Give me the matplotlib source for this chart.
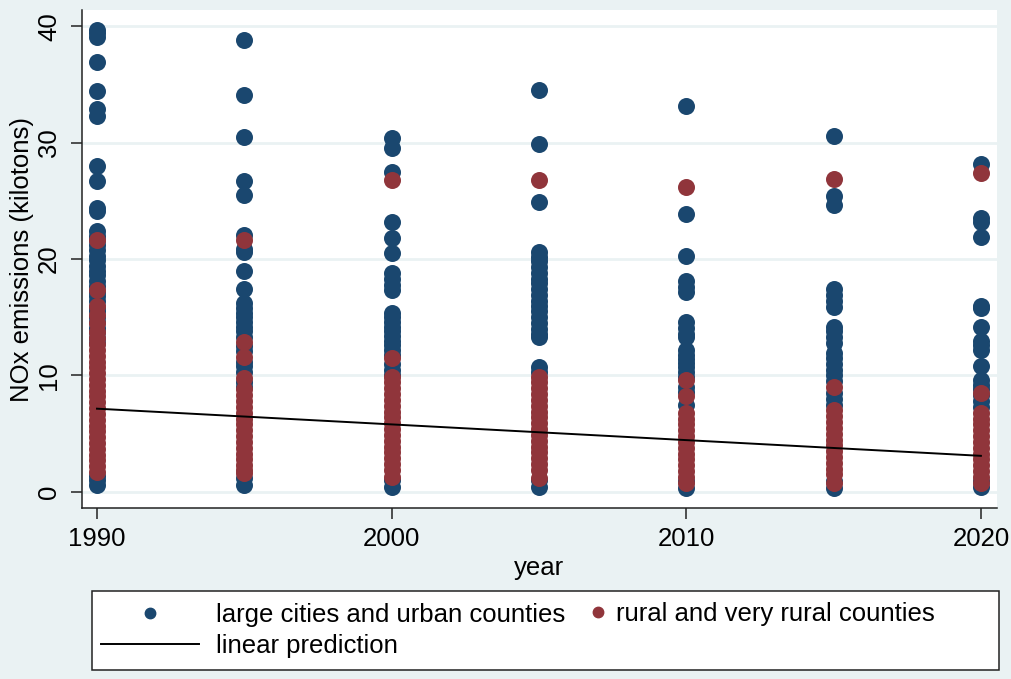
import matplotlib.pyplot as plt
from matplotlib.lines import Line2D
from matplotlib.patches import Rectangle

plt.rcParams['font.family'] = ['Liberation Sans', 'DejaVu Sans']

years = [1990, 1995, 2000, 2005, 2010, 2015, 2020]

# NOx emissions (kilotons) per county, large cities and urban counties
urban_1990 = [39.7, 39.4, 39.1, 36.9, 34.4, 32.9, 32.3, 28.0, 26.7, 24.4, 24.1,
              22.4, 22.0, 21.6, 21.2, 20.8, 20.3, 19.9, 19.4, 19.0, 18.6, 18.1,
              17.7, 17.2, 16.8, 16.4, 15.9, 15.5, 15.0, 14.6, 14.1, 13.7, 13.2,
              12.8, 1.4, 1.0, 0.6]
urban_1995 = [38.8, 34.1, 30.5, 26.7, 25.5, 22.1, 20.9, 20.6, 19.0, 17.4, 16.2,
              15.8, 15.4, 15.0, 14.6, 14.2, 13.8, 13.3, 12.5, 12.1, 11.2, 10.8,
              10.3, 9.4, 9.0, 1.2, 0.6]
urban_2000 = [30.4, 29.5, 27.5, 23.2, 21.8, 20.5, 18.8, 18.3, 17.8, 17.3, 15.4,
              15.0, 14.6, 14.2, 13.8, 13.4, 13.0, 12.6, 12.2, 11.8, 11.0, 10.5,
              10.0, 1.0, 0.45]
urban_2005 = [34.5, 29.9, 24.9, 20.6, 20.2, 19.8, 19.3, 18.8, 18.3, 17.9, 17.4,
              16.9, 16.4, 16.0, 15.5, 15.0, 14.5, 14.0, 13.6, 13.3, 10.7, 10.3,
              1.0, 0.4]
urban_2010 = [33.1, 23.9, 20.3, 18.1, 17.6, 17.2, 14.6, 14.1, 13.6, 13.3, 12.2,
              11.8, 11.4, 11.1, 10.7, 10.3, 9.9, 9.0, 8.6, 7.5, 0.9, 0.35]
urban_2015 = [30.6, 25.4, 24.6, 17.4, 16.9, 16.4, 15.9, 14.2, 13.8, 13.3, 12.8,
              11.9, 11.5, 11.0, 10.5, 10.0, 9.5, 8.5, 8.0, 7.5, 0.9, 0.35]
urban_2020 = [28.2, 23.5, 23.2, 21.9, 16.0, 15.8, 14.2, 13.0, 12.6, 12.2, 10.8,
              9.6, 9.2, 8.8, 8.3, 7.8, 7.3, 0.9, 0.4]

# rural and very rural counties
rural_1990 = [21.6, 17.3, 16.0, 15.2, 14.5, 13.7, 13.2, 12.7, 12.2, 11.7, 11.2,
              10.7, 10.2, 9.7, 9.2, 8.7, 8.2, 7.7, 7.2, 6.7, 6.2, 5.7, 5.2, 4.7,
              4.2, 3.7, 3.2, 2.7, 2.2, 1.7]
rural_1995 = [21.6, 12.9, 11.6, 9.8, 8.8, 8.3, 7.8, 7.3, 6.8, 6.3, 5.8, 5.3, 4.8,
              4.3, 3.8, 3.3, 2.8, 2.3, 1.9, 1.6]
rural_2000 = [26.8, 11.5, 9.9, 9.4, 8.9, 8.4, 7.9, 7.4, 6.9, 6.4, 5.9, 5.4, 4.9,
              4.4, 3.9, 3.4, 2.9, 2.4, 1.9, 1.3]
rural_2005 = [26.8, 9.9, 9.4, 8.9, 8.4, 7.9, 7.4, 6.9, 6.4, 5.9, 5.4, 4.9, 4.4,
              3.9, 3.4, 2.9, 2.4, 1.9, 1.2]
rural_2010 = [26.2, 9.6, 8.2, 6.8, 6.3, 5.8, 5.3, 4.8, 4.3, 3.8, 3.3, 2.8, 2.3,
              1.8, 1.3, 0.8]
rural_2015 = [26.9, 9.0, 7.0, 6.5, 6.0, 5.5, 5.0, 4.5, 4.0, 3.5, 3.0, 2.5, 2.0,
              1.5, 0.8]
rural_2020 = [27.4, 8.5, 6.8, 6.3, 5.8, 5.3, 4.8, 4.3, 3.8, 3.3, 2.8, 2.3, 1.8,
              1.3, 0.8]

# fitted values of the linear prediction at the ends of the range
pred_years = [1990, 2020]
pred_values = [7.15, 3.1]

urban = [urban_1990, urban_1995, urban_2000, urban_2005, urban_2010, urban_2015, urban_2020]
rural = [rural_1990, rural_1995, rural_2000, rural_2005, rural_2010, rural_2015, rural_2020]

BG = '#EAF2F3'
BLUE = '#1A476F'
RED = '#90353B'
FS = 18.5

fig = plt.figure(figsize=(10.12, 6.79), dpi=100)
fig.patch.set_facecolor(BG)
ax = fig.add_axes([0.081, 0.252, 0.904, 0.733])
ax.set_facecolor('white')

ux, uy = [], []
for yr, vals in zip(years, urban):
    ux += [yr] * len(vals)
    uy += vals
rx, ry = [], []
for yr, vals in zip(years, rural):
    rx += [yr] * len(vals)
    ry += vals

ax.scatter(ux, uy, s=150, color=BLUE, linewidths=0, zorder=3)
ax.scatter(rx, ry, s=150, color=RED, linewidths=0, zorder=4)
ax.plot(pred_years, pred_values, color='black', lw=1.4, zorder=5)

ax.set_xlim(1989.49, 2020.54)
ax.set_ylim(-1.37, 41.37)
ax.set_xticks([1990, 2000, 2010, 2020])
ax.set_yticks([0, 10, 20, 30, 40])
ax.grid(axis='y', color=BG, lw=2, zorder=0)
ax.set_axisbelow(True)

for s in ['top', 'right']:
    ax.spines[s].set_visible(False)
for s in ['left', 'bottom']:
    ax.spines[s].set_color('#222222')
    ax.spines[s].set_linewidth(1.1)
ax.tick_params(axis='both', length=8, width=1.1, color='#222222', labelsize=FS)
ax.tick_params(axis='x', pad=6)
ax.tick_params(axis='y', pad=7)
for lab in ax.get_yticklabels():
    lab.set_rotation(90)
    lab.set_va('center')

ax.set_xlabel('year', fontsize=FS, labelpad=3)
ax.set_ylabel('NOx emissions (kilotons)', fontsize=FS, labelpad=2)

# legend box with its three keys
fig.patches.append(Rectangle((0.091, 0.013), 0.896, 0.117, transform=fig.transFigure,
                             facecolor='white', edgecolor='#222222', lw=1.1))
h_urban = Line2D([], [], ls='none', marker='o', ms=7.5, color=BLUE)
h_red = Line2D([], [], ls='none', marker='o', ms=7.5, color=RED)
h_line = Line2D([], [], color='black', lw=1.4)
fig.legend([h_urban, h_line], ['large cities and urban counties', 'linear prediction'],
           loc='center left', bbox_to_anchor=(0.1, 0.0714), frameon=False,
           fontsize=FS, handlelength=3.8, handletextpad=0.66, labelspacing=0.3,
           borderaxespad=0, borderpad=0)
fig.legend([h_red], ['rural and very rural counties'],
           loc='center left', bbox_to_anchor=(0.581, 0.0958), frameon=False,
           fontsize=FS, handlelength=0.8, handletextpad=0.3, borderaxespad=0,
           borderpad=0)

fig.savefig('out.png', dpi=100, facecolor=BG)
